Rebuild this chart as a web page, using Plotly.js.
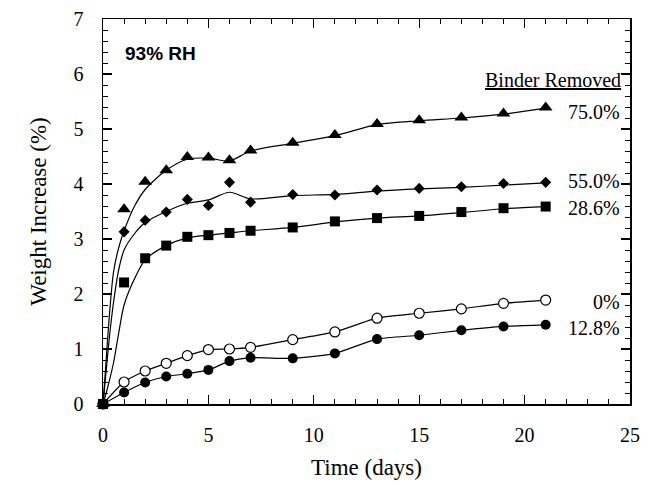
<!DOCTYPE html>
<html>
<head>
<meta charset="utf-8">
<script src="https://cdn.plot.ly/plotly-3.0.1.min.js"></script>
<style>html,body{margin:0;padding:0;background:#fff;}#chart{width:656px;height:485px;}</style>
</head>
<body>
<div id="chart"></div>
<script>
// Measured points
const days = [0, 1, 2, 3, 4, 5, 6, 7, 9, 11, 13, 15, 17, 19, 21];
const removed750 = [0, 3.54, 4.04, 4.25, 4.49, 4.48, 4.43, 4.61, 4.75, 4.89, 5.09, 5.16, 5.21, 5.28, 5.39];
const removed550 = [0, 3.13, 3.34, 3.49, 3.72, 3.61, 4.03, 3.67, 3.81, 3.80, 3.89, 3.92, 3.95, 4.01, 4.03];
const removed286 = [0, 2.21, 2.65, 2.88, 3.04, 3.07, 3.11, 3.15, 3.21, 3.32, 3.38, 3.42, 3.49, 3.56, 3.59];
const removed0   = [0, 0.40, 0.60, 0.74, 0.88, 0.99, 1.00, 1.03, 1.17, 1.31, 1.56, 1.65, 1.73, 1.83, 1.89];
const removed128 = [0, 0.21, 0.39, 0.50, 0.55, 0.62, 0.78, 0.84, 0.83, 0.92, 1.18, 1.25, 1.34, 1.41, 1.44];

// Fitted curves
const fitDays = [0, 0.15, 0.3, 0.5, 0.75, 1, 1.5, 2, 3, 4, 5, 6, 7, 9, 11, 13, 15, 17, 19, 21];
const fit750 = [0, 0.8, 1.6, 2.4, 2.85, 3.15, 3.6, 3.9, 4.25, 4.45, 4.47, 4.42, 4.6, 4.74, 4.88, 5.08, 5.15, 5.2, 5.27, 5.38];
const fit550 = [0, 0.6, 1.2, 1.85, 2.45, 2.8, 3.1, 3.3, 3.5, 3.65, 3.71, 3.85, 3.73, 3.79, 3.81, 3.87, 3.91, 3.94, 3.98, 4.02];
const fit286 = [0, 0.2, 0.42, 0.75, 1.3, 1.8, 2.28, 2.62, 2.88, 3.02, 3.07, 3.11, 3.15, 3.21, 3.31, 3.38, 3.42, 3.48, 3.55, 3.59];

const seriesLabels = ["75.0%", "55.0%", "28.6%", "0%", "12.8%"];
const labelY = [5.31, 4.05, 3.56, 1.86, 1.38];

const lineStyle = {color: '#000', width: 1.2};
const traces = [];
function fitTrace(y) {
  return {x: fitDays, y: y, mode: 'lines', line: Object.assign({shape: 'spline', smoothing: 0.8}, lineStyle), hoverinfo: 'skip', cliponaxis: false};
}
function markTrace(y, symbol, size, open) {
  return {x: days, y: y, mode: 'markers', cliponaxis: false,
    marker: {symbol: symbol, size: size, color: open ? '#fff' : '#000', line: {color: '#000', width: open ? 1.2 : 0}}};
}
traces.push(fitTrace(fit750), fitTrace(fit550), fitTrace(fit286));
traces.push({x: days, y: removed0, mode: 'lines', line: Object.assign({shape: 'spline', smoothing: 0.6}, lineStyle), cliponaxis: false});
traces.push({x: days, y: removed128, mode: 'lines', line: Object.assign({shape: 'spline', smoothing: 0.6}, lineStyle), cliponaxis: false});
traces.push(markTrace(removed750, 'triangle-up', 12, false));
traces.push(markTrace(removed550, 'diamond', 8.5, false));
traces.push(markTrace(removed286, 'square', 10, false));
traces.push(markTrace(removed0, 'circle', 10, true));
traces.push(markTrace(removed128, 'circle', 10, false));

const serif = 'Liberation Serif, Times New Roman, serif';
const annotations = seriesLabels.map((t, i) => ({
  x: 24.6, y: labelY[i], xref: 'x', yref: 'y', text: t, showarrow: false,
  xanchor: 'right', yanchor: 'middle', font: {family: serif, size: 20, color: '#000'}
}));
annotations.push({x: 24.65, y: 5.89, xref: 'x', yref: 'y', text: '<u>Binder Removed</u>', showarrow: false,
  xanchor: 'right', yanchor: 'middle', font: {family: serif, size: 20, color: '#000'}});
annotations.push({x: 0.95, y: 6.37, xref: 'x', yref: 'y', text: '<b>93% RH</b>', showarrow: false,
  xanchor: 'left', yanchor: 'middle', font: {family: 'Liberation Sans, Arial, sans-serif', size: 19, color: '#000'}});

const axisCommon = {
  showline: true, linecolor: '#000', linewidth: 1.5, mirror: 'allticks',
  ticks: 'inside', tickcolor: '#000', tickwidth: 1.2, ticklen: 9,
  showgrid: false, zeroline: false, fixedrange: true,
  tickfont: {family: serif, size: 20, color: '#000'}
};
const layout = {
  width: 656, height: 485,
  margin: {l: 103, r: 26, t: 19, b: 81},
  paper_bgcolor: '#fff', plot_bgcolor: '#fff',
  showlegend: false,
  xaxis: Object.assign({}, axisCommon, {range: [0, 25], dtick: 5, tick0: 0,
    ticklabelstandoff: 12,
    minor: {dtick: 1, ticks: 'inside', ticklen: 5, tickcolor: '#000', tickwidth: 1},
    title: {text: 'Time (days)', font: {family: serif, size: 23, color: '#000'}, standoff: 14}}),
  yaxis: Object.assign({}, axisCommon, {range: [0, 7], dtick: 1, tick0: 0,
    ticklabelstandoff: 14,
    minor: {dtick: 0.2, ticks: 'inside', ticklen: 5, tickcolor: '#000', tickwidth: 1},
    title: {text: 'Weight Increase (%)', font: {family: serif, size: 23, color: '#000'}, standoff: 20}}),
  annotations: annotations
};
Plotly.newPlot('chart', traces, layout, {staticPlot: true, displayModeBar: false});
</script>
</body>
</html>
